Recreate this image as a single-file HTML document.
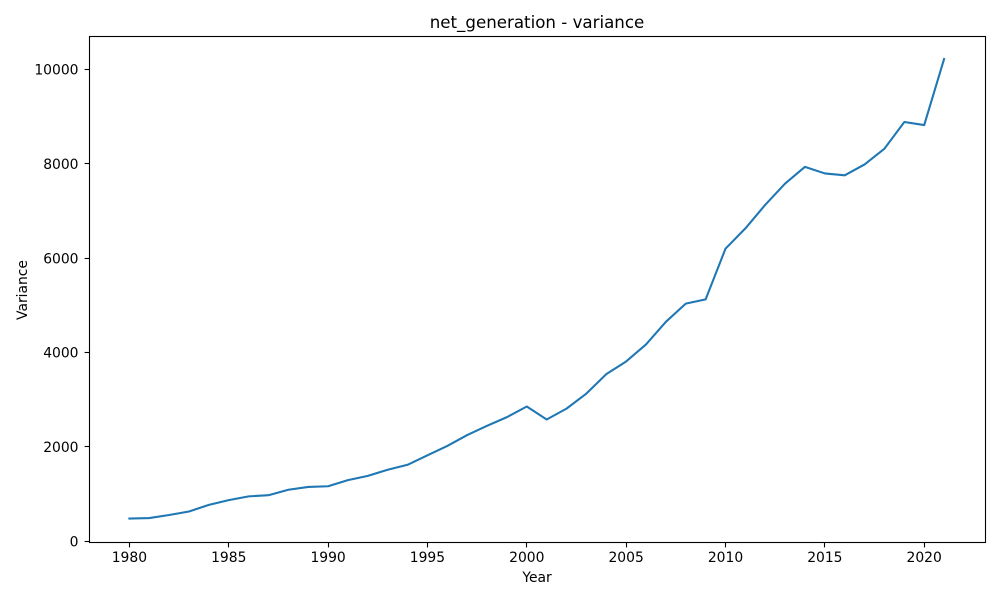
<!DOCTYPE html>
<html>
<head>
<meta charset="utf-8">
<title>net_generation - variance</title>
<style>
html,body{margin:0;padding:0;background:#fff;}
svg{display:block;}
text{font-family:"DejaVu Sans","Liberation Sans",sans-serif;fill:#000;}
</style>
</head>
<body>
<svg id="chart" width="1000" height="600" viewBox="0 0 1000 600" xmlns="http://www.w3.org/2000/svg"></svg>
<script>
const years = [1980,1981,1982,1983,1984,1985,1986,1987,1988,1989,1990,1991,1992,1993,1994,1995,1996,1997,1998,1999,2000,2001,2002,2003,2004,2005,2006,2007,2008,2009,2010,2011,2012,2013,2014,2015,2016,2017,2018,2019,2020,2021];
const varianceValues = [480,490,555,630,770,870,950,975,1090,1150,1165,1295,1385,1515,1620,1820,2020,2250,2445,2630,2855,2580,2810,3130,3540,3810,4170,4650,5035,5125,6200,6630,7130,7580,7935,7795,7755,7985,8320,8885,8820,10220];
const xTickLabels = [1980,1985,1990,1995,2000,2005,2010,2015,2020];
const yTickLabels = [0,2000,4000,6000,8000,10000];

const svg = document.getElementById('chart');
const NS = 'http://www.w3.org/2000/svg';
const plot = {left: 89.5, right: 985.5, top: 36.5, bottom: 542.5};

function xScale(v) { return 129.4 + (v - 1980) * 19.87; }
function yScale(v) { return 541.2 - v * (541.2 - 69.4) / 10000; }

function add(tag, attrs, parent) {
  const el = document.createElementNS(NS, tag);
  for (const k in attrs) el.setAttribute(k, attrs[k]);
  (parent || svg).appendChild(el);
  return el;
}

const series = add('polyline', {
  points: years.map((y, i) => xScale(y).toFixed(2) + ',' + yScale(varianceValues[i]).toFixed(2)).join(' '),
  fill: 'none', stroke: '#1f77b4', 'stroke-width': 2.08, 'stroke-linejoin': 'round', 'stroke-linecap': 'square'
});



const frame = add('rect', {
  x: plot.left, y: plot.top, width: plot.right - plot.left, height: plot.bottom - plot.top,
  fill: 'none', stroke: '#000', 'stroke-width': 1.1
});



xTickLabels.forEach(v => {
  const x = Math.floor(xScale(v)) + 0.5;
  const tick = add('line', {x1: x, x2: x, y1: plot.bottom, y2: plot.bottom + 4.9, stroke: '#000', 'stroke-width': 1.1});
  
  
  const label = add('text', {x: xScale(v), y: 562, 'text-anchor': 'middle', 'font-size': 13.89});
  
  
  label.textContent = v;
});

yTickLabels.forEach(v => {
  const y = Math.floor(yScale(v)) + 0.5;
  const tick = add('line', {x1: plot.left - 4.9, x2: plot.left, y1: y, y2: y, stroke: '#000', 'stroke-width': 1.1});
  
  
  const label = add('text', {x: 78.5, y: yScale(v) + 5.2, 'text-anchor': 'end', 'font-size': 13.89});
  
  
  label.textContent = v;
});

const title = add('text', {x: 537, y: 28, 'text-anchor': 'middle', 'font-size': 16.67});


title.textContent = 'net_generation - variance';

const xTitle = add('text', {x: 537, y: 582, 'text-anchor': 'middle', 'font-size': 13.89});


xTitle.textContent = 'Year';

const yTitle = add('text', {x: 0, y: 0, 'text-anchor': 'middle', 'font-size': 13.89, transform: 'translate(27 290) rotate(-90)'});


yTitle.textContent = 'Variance';
</script>
</body>
</html>
